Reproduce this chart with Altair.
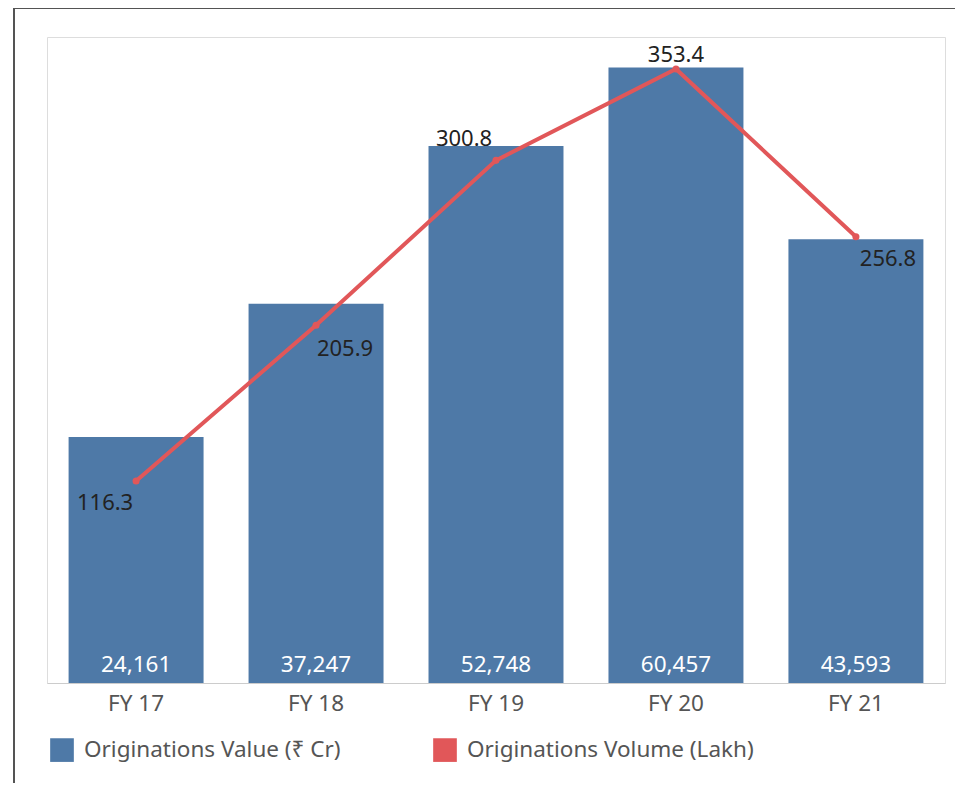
import altair as alt
import pandas as pd

years = ["FY 17", "FY 18", "FY 19", "FY 20", "FY 21"]
values_cr = [24161, 37247, 52748, 60457, 43593]
volume_lakh = [116.3, 205.9, 300.8, 353.4, 256.8]
series_names = ["Originations Value (₹ Cr)", "Originations Volume (Lakh)"]
series_colors = ["#4e79a7", "#e15759"]

df = pd.DataFrame({
    "year": years,
    "value": values_cr,
    "volume": volume_lakh,
    "series": [series_names[0]] * len(years),
})

FONT = "Noto Sans"
W, H = 898, 646

x_enc = alt.X("year:N", sort=years, title=None,
              scale=alt.Scale(paddingInner=0.25, paddingOuter=0.12),
              axis=alt.Axis(labelAngle=0, labelFontSize=22.5, labelColor="#555555",
                            labelFont=FONT, ticks=False, domainColor="#cccccc",
                            labelPadding=9, grid=False))

y_left = alt.Scale(domain=[0, 63460], nice=False, zero=True)
y_right = alt.Scale(domain=[0, 371.8], nice=False, zero=True)

base = alt.Chart(df)

bars = base.mark_bar().encode(
    x=x_enc,
    y=alt.Y("value:Q", scale=y_left, title=None,
            axis=alt.Axis(labels=False, ticks=False, domain=False, grid=True,
                          gridColor="#efefef", values=[10000, 20000, 30000, 40000, 50000, 60000])),
    color=alt.Color("series:N",
                    scale=alt.Scale(domain=series_names, range=series_colors),
                    legend=alt.Legend(title=None, orient="none", legendX=3, legendY=701,
                                      direction="horizontal", symbolType="square",
                                      symbolSize=560, symbolStrokeWidth=0,
                                      labelFontSize=22.5, labelColor="#555555", labelFont=FONT,
                                      columnPadding=92, labelOffset=10, labelLimit=400)),
)

bar_labels = base.mark_text(color="white", fontSize=22.5, font=FONT, baseline="alphabetic",
                            dy=-11).encode(
    x=alt.X("year:N", sort=years),
    y=alt.Y("zero:Q", scale=y_left, axis=None),
    text=alt.Text("value:Q", format=","),
).transform_calculate(zero="0")

left = alt.layer(bars, bar_labels)

line = base.mark_line(color=series_colors[1], strokeWidth=4).encode(
    x=alt.X("year:N", sort=years),
    y=alt.Y("volume:Q", scale=y_right, axis=None),
)
pts = base.mark_point(color=series_colors[1], filled=True, size=50, opacity=1).encode(
    x=alt.X("year:N", sort=years),
    y=alt.Y("volume:Q", scale=y_right, axis=None),
)

offsets = {"FY 17": (-31, 22), "FY 18": (29, 24), "FY 19": (-32, -21),
           "FY 20": (0, -14), "FY 21": (32, 22)}
labels = []
for yr, (dx, dy) in offsets.items():
    labels.append(
        base.transform_filter(alt.datum.year == yr).mark_text(
            color="#222222", fontSize=22, font=FONT, dx=dx, dy=dy, baseline="middle"
        ).encode(
            x=alt.X("year:N", sort=years),
            y=alt.Y("volume:Q", scale=y_right, axis=None),
            text=alt.Text("volume:Q", format=".1f"),
        )
    )

right = alt.layer(line, pts, *labels)

frame_left = alt.Chart(df).mark_rule(color="#555555", strokeWidth=1.5).encode(
    x=alt.value(-33), y=alt.value(-29), y2=alt.value(H + 160))
frame_top = alt.Chart(df).mark_rule(color="#555555", strokeWidth=1.5).encode(
    x=alt.value(-33), x2=alt.value(W + 30), y=alt.value(-29))

chart = alt.layer(left, right, frame_left, frame_top).resolve_scale(
    y="independent"
).properties(
    width=W, height=H,
    autosize=alt.AutoSizeParams(type="none"),
    padding={"left": 39, "top": 29, "right": 10, "bottom": 100},
).configure_view(stroke="#dddddd", strokeWidth=1.5).configure(background="white")

chart.save("out.html", embed_options={"renderer": "svg", "actions": False})
